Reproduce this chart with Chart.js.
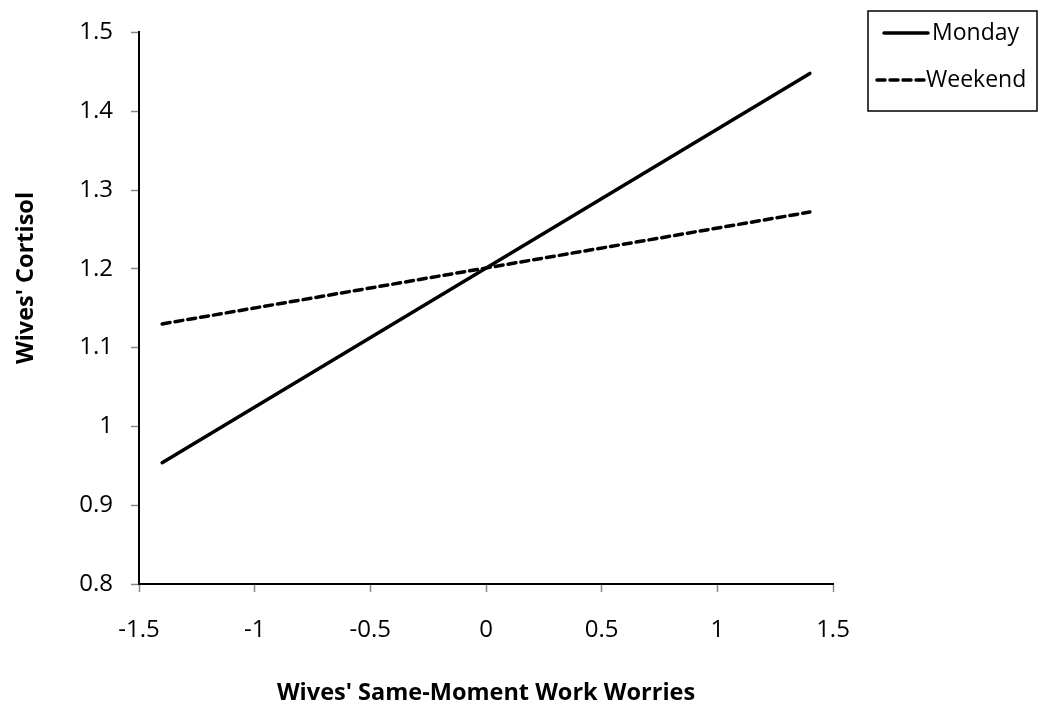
<!DOCTYPE html>
<html lang="en">
<head>
    <meta charset="UTF-8">
    <title>Wives' Cortisol</title>
    <script src="https://cdn.jsdelivr.net/npm/chart.js"></script>
    <style>
        body {
            margin: 0;
            background-color: white;
        }

        #chart-container {
            width: 1050px;
            height: 717px;
        }
    </style>
</head>
<body>
    <div id="chart-container">
        <canvas id="cortisolChart"></canvas>
    </div>

    <script>
        // values
        const workWorries = [-1.4, 1.4];
        const mondayCortisol = [0.954, 1.448];
        const weekendCortisol = [1.13, 1.272];
        const seriesNames = ['Monday', 'Weekend'];
        const xTickLabels = ['-1.5', '-1', '-0.5', '0', '0.5', '1', '1.5'];
        const yTickLabels = ['0.8', '0.9', '1', '1.1', '1.2', '1.3', '1.4', '1.5'];

        const FONT = "'Open Sans', sans-serif";

        // y title and framed legend, drawn like the original figure
        const extras = {
            id: 'extras',
            afterDraw(chart) {
                const ctx = chart.ctx;
                ctx.save();
                ctx.fillStyle = '#000';

                // y axis title
                ctx.translate(26, 278);
                ctx.rotate(-Math.PI / 2);
                ctx.font = "bold 23.5px " + FONT;
                ctx.textAlign = 'center';
                ctx.textBaseline = 'middle';
                ctx.fillText("Wives' Cortisol", 0, 0);
                ctx.setTransform(1, 0, 0, 1, 0, 0);

                // legend frame
                ctx.strokeStyle = '#000';
                ctx.lineWidth = 1.5;
                ctx.strokeRect(868, 11, 169, 100);

                ctx.lineWidth = 3.5;
                ctx.lineCap = 'round';
                ctx.beginPath();
                ctx.moveTo(884, 33);
                ctx.lineTo(928, 33);
                ctx.stroke();

                ctx.setLineDash([8, 5]);
                ctx.beginPath();
                ctx.moveTo(877, 80);
                ctx.lineTo(924, 80);
                ctx.stroke();
                ctx.setLineDash([]);

                ctx.font = "23px " + FONT;
                ctx.textAlign = 'left';
                ctx.textBaseline = 'middle';
                ctx.fillText(seriesNames[0], 932, 33);
                ctx.fillText(seriesNames[1], 926, 80);
                ctx.restore();
            }
        };

        const ctx = document.getElementById('cortisolChart').getContext('2d');
        const cortisolChart = new Chart(ctx, {
            type: 'line',
            data: {
                datasets: [
                    {
                        label: seriesNames[0],
                        data: workWorries.map((x, i) => ({ x: x, y: mondayCortisol[i] })),
                        borderColor: '#000',
                        borderWidth: 3.5,
                        borderCapStyle: 'round',
                        pointRadius: 0,
                        fill: false
                    },
                    {
                        label: seriesNames[1],
                        data: workWorries.map((x, i) => ({ x: x, y: weekendCortisol[i] })),
                        borderColor: '#000',
                        borderWidth: 3.5,
                        borderDash: [8, 5],
                        borderCapStyle: 'round',
                        pointRadius: 0,
                        fill: false
                    }
                ]
            },
            options: {
                responsive: true,
                maintainAspectRatio: false,
                animation: false,
                layout: {
                    padding: { top: 30, right: 217, left: 0, bottom: 0 }
                },
                plugins: {
                    legend: { display: false },
                    tooltip: { enabled: false }
                },
                scales: {
                    x: {
                        type: 'linear',
                        min: -1.5,
                        max: 1.5,
                        afterFit: scale => { scale.height = 133; },
                        afterBuildTicks: scale => {
                            scale.ticks = xTickLabels.map(t => ({ value: parseFloat(t) }));
                        },
                        ticks: {
                            color: '#000',
                            padding: 24,
                            maxRotation: 0,
                            font: { family: FONT, size: 24 },
                            callback: (value, index) => xTickLabels[index]
                        },
                        grid: {
                            drawOnChartArea: false,
                            tickLength: 8,
                            tickColor: '#888',
                            tickWidth: 1.5
                        },
                        border: { color: '#000', width: 2 },
                        title: {
                            display: true,
                            text: "Wives' Same-Moment Work Worries",
                            color: '#000',
                            font: { family: FONT, size: 23.5, weight: 'bold' },
                            padding: { top: 0, bottom: 10 }
                        }
                    },
                    y: {
                        min: 0.8,
                        max: 1.5,
                        afterFit: scale => { scale.width = 139; },
                        afterBuildTicks: scale => {
                            scale.ticks = yTickLabels.map(t => ({ value: parseFloat(t) }));
                        },
                        ticks: {
                            color: '#000',
                            padding: 18,
                            font: { family: FONT, size: 24 },
                            callback: (value, index) => yTickLabels[index]
                        },
                        grid: {
                            drawOnChartArea: false,
                            tickLength: 8,
                            tickColor: '#888',
                            tickWidth: 1.5
                        },
                        border: { color: '#000', width: 2 }
                    }
                }
            },
            plugins: [extras]
        });
    </script>
</body>
</html>
